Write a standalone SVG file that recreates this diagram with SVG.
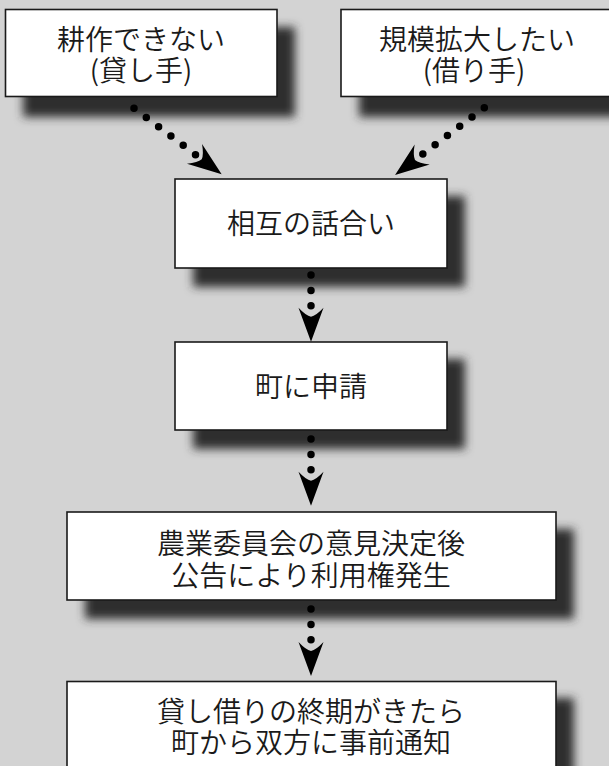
<svg xmlns="http://www.w3.org/2000/svg" width="609" height="766" viewBox="0 0 609 766">
<style>
.bg{fill:#d3d3d3}
.box{fill:#ffffff;stroke:#1a1a1a;stroke-width:1.6}
.sh{fill:#2e2e2e;filter:url(#blur)}
.t{font-family:"Noto Sans CJK JP","Noto Sans",sans-serif;font-size:28px;font-weight:350;fill:#1a1a1a;text-anchor:middle}
.c{fill:none;stroke:#000;stroke-width:7.5;stroke-linecap:round;stroke-dasharray:0 15.4;marker-end:url(#ah)}
</style>
<defs>
<filter id="blur" x="-20%" y="-30%" width="140%" height="160%"><feGaussianBlur stdDeviation="5"/></filter>
<marker id="ah" markerUnits="userSpaceOnUse" orient="auto" viewBox="-12 -15 42 30" markerWidth="42" markerHeight="30" refX="0" refY="0">
<path d="M25,0 L-9,-12.5 Q-1,-5 0,0 Q-1,5 -9,12.5 Z" fill="#000"/>
</marker>
</defs>
<rect class="bg" x="0" y="0" width="609" height="766"/>

<g id="node-lender">
<rect class="sh" x="23" y="27" width="272" height="90"/>
<rect class="box" x="5.5" y="9.5" width="271.5" height="87"/>
<text class="t" x="141" y="49.5">耕作できない</text>
<text class="t" x="141" y="81">(貸し手)</text>
</g>

<g id="node-borrower">
<rect class="sh" x="359" y="27" width="272" height="90"/>
<rect class="box" x="341" y="9.5" width="272" height="87"/>
<text class="t" x="477" y="49.5">規模拡大したい</text>
<text class="t" x="474" y="81">(借り手)</text>
</g>

<g id="node-talk">
<rect class="sh" x="193" y="196" width="272" height="91"/>
<rect class="box" x="175" y="179" width="272" height="89"/>
<text class="t" x="311" y="233.5">相互の話合い</text>
</g>

<g id="node-apply">
<rect class="sh" x="193" y="359" width="272" height="90"/>
<rect class="box" x="175" y="342" width="272" height="88"/>
<text class="t" x="311" y="397">町に申請</text>
</g>

<g id="node-decision">
<rect class="sh" x="85" y="529" width="489" height="90"/>
<rect class="box" x="67" y="512" width="489" height="88"/>
<text class="t" x="311" y="554">農業委員会の意見決定後</text>
<text class="t" x="311" y="585.5">公告により利用権発生</text>
</g>

<g id="node-notice">
<rect class="sh" x="85" y="698" width="489" height="90"/>
<rect class="box" x="67" y="681.5" width="489" height="88"/>
<text class="t" x="311" y="722">貸し借りの終期がきたら</text>
<text class="t" x="311" y="753">町から双方に事前通知</text>
</g>

<g id="connectors">
<path class="c" d="M134,108.3 L201.7,159.3"/>
<path class="c" d="M484.3,107.7 L415,160"/>
<path class="c" d="M311,275 L311,316.7"/>
<path class="c" d="M311,439 L311,480.7"/>
<path class="c" d="M311,609 L311,651"/>
</g>
</svg>
